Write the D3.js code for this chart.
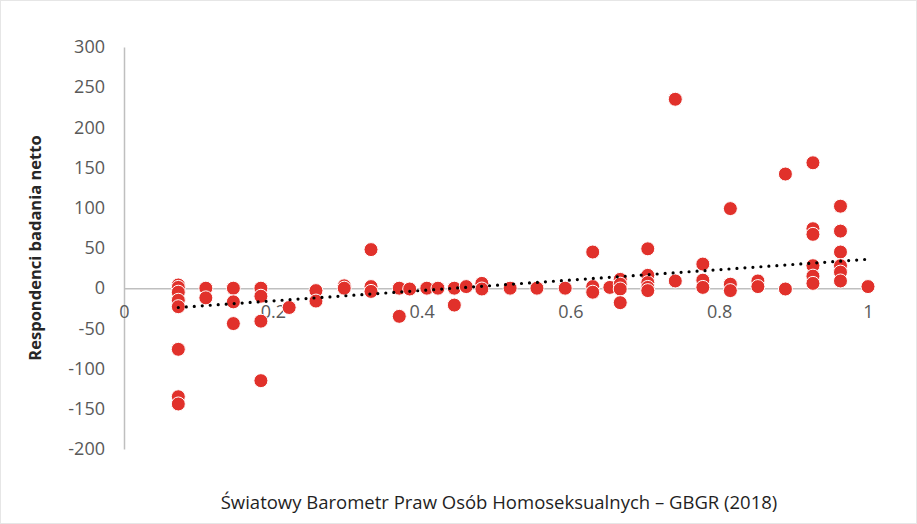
<!DOCTYPE html>
<html>
<head>
<meta charset="utf-8">
<script src="https://cdnjs.cloudflare.com/ajax/libs/d3/7.8.5/d3.min.js"></script>
<style>
  body { margin: 0; background: #fff; }
  svg { display: block; font-family: "Open Sans", "Noto Sans", sans-serif; }
</style>
</head>
<body>
<div id="chart"></div>
<script>
// GBGR index (x) vs net respondents (y)
const gbgrScore = [
  0.073, 0.073, 0.073, 0.073, 0.073, 0.073, 0.073, 0.073,
  0.110, 0.110,
  0.147, 0.147, 0.147,
  0.184, 0.184, 0.184, 0.184,
  0.222,
  0.258, 0.258,
  0.296, 0.296,
  0.332, 0.332, 0.332,
  0.370, 0.370,
  0.384, 0.407, 0.422,
  0.444, 0.444,
  0.460,
  0.481, 0.481,
  0.519, 0.555, 0.593,
  0.630, 0.630, 0.630,
  0.653,
  0.667, 0.667, 0.667, 0.667,
  0.704, 0.704, 0.704, 0.704, 0.704,
  0.741, 0.741,
  0.778, 0.778, 0.778,
  0.815, 0.815, 0.815,
  0.852, 0.852,
  0.889, 0.889,
  0.926, 0.926, 0.926, 0.926, 0.926, 0.926,
  0.963, 0.963, 0.963, 0.963, 0.963, 0.963,
  1.000
];
const netRespondents = [
  4, 1, -5, -15, -23, -76, -135, -144,
  0, -12,
  0, -17, -44,
  0, -10, -41, -115,
  -24,
  -3, -16,
  3, 0,
  48, 2, -4,
  0, -35,
  -1, 0, 0,
  0, -21,
  2,
  6, -1,
  0, 0, 0,
  45, 2, -5,
  1,
  11, 5, -1, -18,
  49, 16, 7, 1, -3,
  235, 9,
  30, 10, 1,
  99, 5, -3,
  9, 2,
  142, -1,
  156, 74, 67, 28, 15, 6,
  102, 71, 45, 28, 20, 9,
  2
];
// linear trend line end points as drawn
const trendX = [0.073, 1.0];
const trendY = [-24, 36];

const xTicks = [0, 0.2, 0.4, 0.6, 0.8, 1];
const yTicks = [-200, -150, -100, -50, 0, 50, 100, 150, 200, 250, 300];

const xTitle = "Światowy Barometr Praw Osób Homoseksualnych – GBGR (2018)";
const yTitle = "Respondenci badania netto";

const width = 917;
const height = 524;

const svg = d3.select("#chart")
  .append("svg")
  .attr("width", width)
  .attr("height", height);

svg.append("rect")
  .attr("x", 0.5).attr("y", 0.5)
  .attr("width", width - 1).attr("height", height - 1)
  .attr("fill", "#fff")
  .attr("stroke", "#e6e6e6");

const x = d3.scaleLinear().domain([0, 1]).range([124, 868]);
const y = d3.scaleLinear().domain([-200, 300]).range([449, 47]);

// y axis
const yAxis = svg.append("g")
  .attr("transform", `translate(${x(0)},0)`)
  .call(d3.axisLeft(y).tickValues(yTicks).tickSize(0).tickPadding(19)
    .tickFormat(d => d < 0 ? "-" + Math.abs(d) : d));
yAxis.select(".domain").attr("stroke", "#bfbfbf").attr("stroke-width", 1.5);
yAxis.selectAll("text")
  .attr("fill", "#595959")
  .style("font-size", "18px")
  .style("font-family", "'Open Sans', sans-serif");

// x axis crossing at y = 0
const xAxis = svg.append("g")
  .attr("transform", `translate(0,${y(0)})`)
  .call(d3.axisBottom(x).tickValues(xTicks).tickSize(0).tickPadding(17)
    .tickFormat(d3.format("~g")));
xAxis.select(".domain").attr("stroke", "#bfbfbf").attr("stroke-width", 1.5);
xAxis.selectAll("text")
  .attr("fill", "#595959")
  .style("font-size", "18px")
  .style("font-family", "'Open Sans', sans-serif");

// points
svg.append("g")
  .selectAll("circle")
  .data(gbgrScore.map((d, i) => [d, netRespondents[i]]))
  .enter()
  .append("circle")
  .attr("cx", d => x(d[0]))
  .attr("cy", d => y(d[1]))
  .attr("r", 7)
  .attr("fill", "#e1312b")
  .attr("stroke", "#fff")
  .attr("stroke-width", 1);

// dotted trend line
svg.append("path")
  .datum(trendX.map((d, i) => [d, trendY[i]]))
  .attr("d", d3.line().x(d => x(d[0])).y(d => y(d[1])))
  .attr("fill", "none")
  .attr("stroke", "#000")
  .attr("stroke-width", 3.2)
  .attr("stroke-linecap", "round")
  .attr("stroke-dasharray", "0 8");

// titles
svg.append("text")
  .attr("transform", `translate(41,248) rotate(-90)`)
  .attr("text-anchor", "middle")
  .attr("fill", "#262626")
  .style("font-size", "16.5px")
  .style("font-weight", "bold")
  .text(yTitle);

svg.append("text")
  .attr("x", 499)
  .attr("y", 509)
  .attr("text-anchor", "middle")
  .attr("fill", "#1f1f1f")
  .style("font-size", "18.5px")
  .text(xTitle);
</script>
</body>
</html>
